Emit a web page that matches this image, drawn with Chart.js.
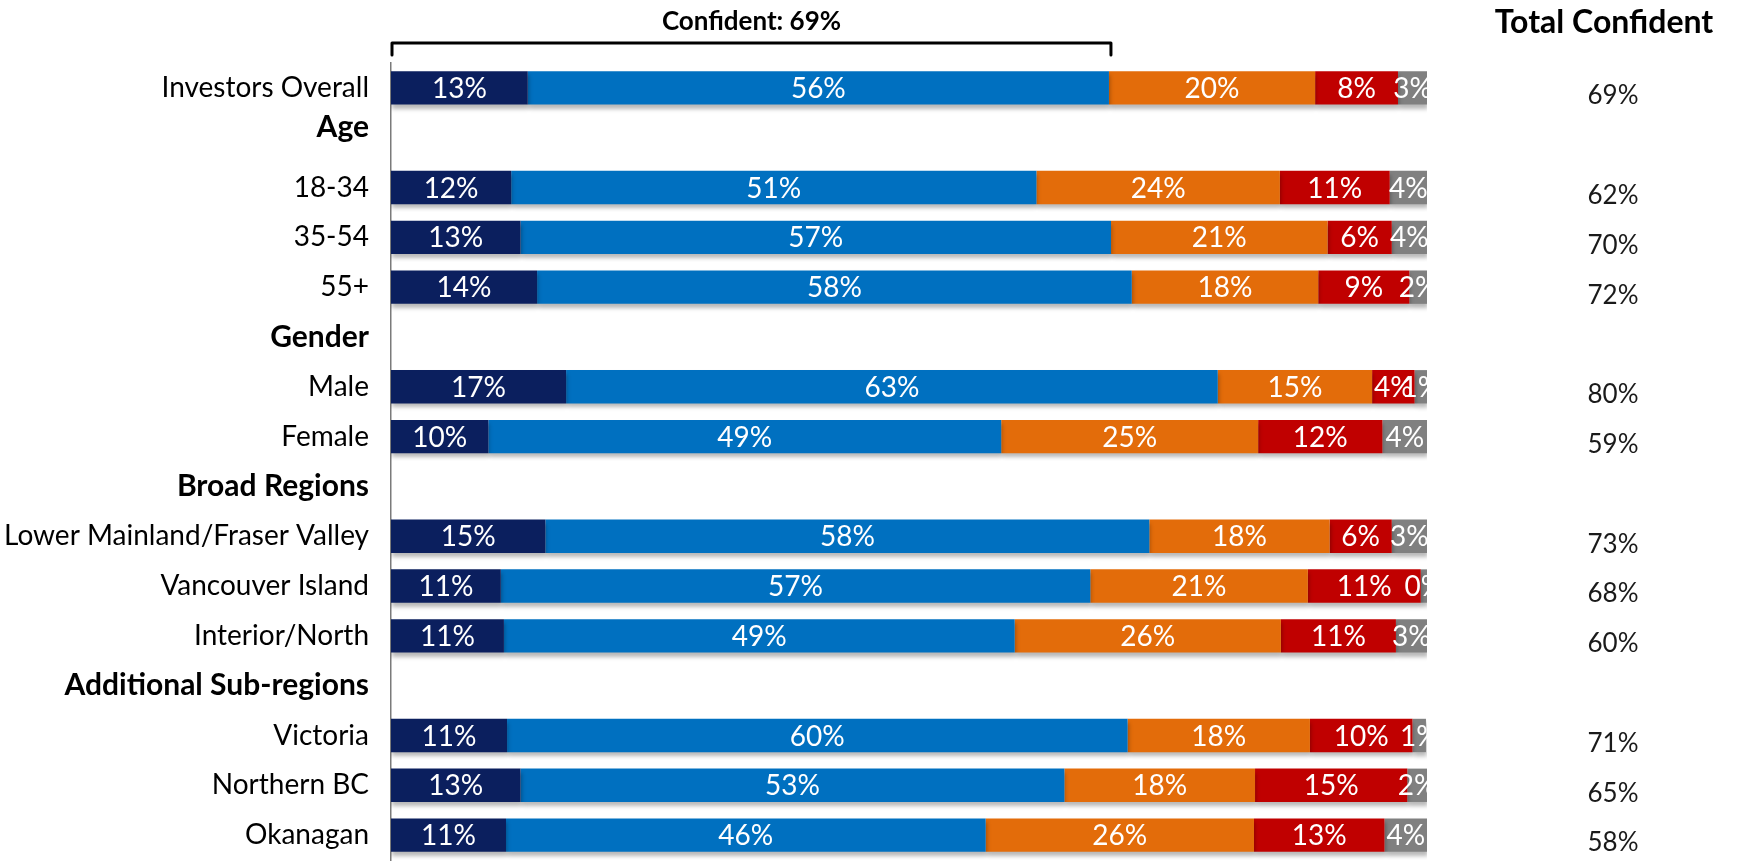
<!DOCTYPE html>
<html><head><meta charset="utf-8">
<script src="https://cdn.jsdelivr.net/npm/chart.js@4/dist/chart.umd.min.js"></script>
<style>html,body{margin:0;padding:0;background:#fff;overflow:hidden}#wrap{width:1738px;height:864px}</style>
</head><body><div id="wrap"><canvas id="c" width="1738" height="864"></canvas></div>
<script>
// ---- DATA ----
const categories = ['Investors Overall','Age','18-34','35-54','55+','Gender','Male','Female','Broad Regions','Lower Mainland/Fraser Valley','Vancouver Island','Interior/North','Additional Sub-regions','Victoria','Northern BC','Okanagan'];
const headerRows = [false,true,false,false,false,true,false,false,true,false,false,false,true,false,false,false];
const seriesNames = ['Very confident','Somewhat confident','Not very confident','Not at all confident',"Don't know"];
// segment widths (percent)
const veryConfident     = [13.2,null,11.6,12.5,14.1,null,16.9, 9.4,null,14.9,10.6,10.9,null,11.2,12.5,11.1];
const somewhatConfident = [56.1,null,50.7,57.0,57.4,null,62.9,49.5,null,58.3,56.9,49.3,null,59.9,52.5,46.3];
const notVeryConfident  = [19.9,null,23.5,20.9,18.0,null,14.9,24.8,null,17.4,21.0,25.7,null,17.6,18.4,25.9];
const notAtAllConfident = [ 8.0,null,10.6, 6.2, 8.8,null, 4.1,12.0,null, 6.0,10.9,11.1,null, 9.9,14.7,12.6];
const dontKnow          = [ 2.8,null, 3.6, 3.4, 1.7,null, 1.2, 4.3,null, 3.4, 0.6, 3.0,null, 1.3, 1.9, 4.1];
// printed labels (percent)
const veryLabels     = [13,null,12,13,14,null,17,10,null,15,11,11,null,11,13,11];
const somewhatLabels = [56,null,51,57,58,null,63,49,null,58,57,49,null,60,53,46];
const notVeryLabels  = [20,null,24,21,18,null,15,25,null,18,21,26,null,18,18,26];
const notAtAllLabels = [ 8,null,11, 6, 9,null, 4,12,null, 6,11,11,null,10,15,13];
const dontKnowLabels = [ 3,null, 4, 4, 2,null, 1, 4,null, 3, 0, 3,null, 1, 2, 4];
const totalConfident = [69,null,62,70,72,null,80,59,null,73,68,60,null,71,65,58];
const colors = ['#0B1F5E','#0070C0','#E36C0A','#C00000','#808080'];

const seriesValues = [veryConfident,somewhatConfident,notVeryConfident,notAtAllConfident,dontKnow];
const seriesLabels = [veryLabels,somewhatLabels,notVeryLabels,notAtAllLabels,dontKnowLabels];

const FONT = 'Lato';

const shadowPlugin = {
  id:'shadow',
  beforeDatasetDraw(chart){ const c=chart.ctx; c.save(); c.shadowColor='rgba(0,0,0,0.28)'; c.shadowOffsetY=4; c.shadowOffsetX=1; c.shadowBlur=4; },
  afterDatasetDraw(chart){ chart.ctx.restore(); }
};

const labelPlugin = {
  id:'labels',
  afterDatasetsDraw(chart){
    const ctx = chart.ctx;
    ctx.save();
    ctx.font = '28px ' + FONT;
    ctx.fillStyle = '#ffffff';
    ctx.textAlign = 'center';
    ctx.textBaseline = 'middle';
    chart.data.datasets.forEach((ds, i) => {
      const meta = chart.getDatasetMeta(i);
      meta.data.forEach((el, j) => {
        const lab = seriesLabels[i][j];
        if (lab === null || lab === undefined) return;
        ctx.fillText(lab + '%', (el.x + el.base) / 2, el.y + 1);
      });
    });
    // Total Confident column
    const yScale = chart.scales.y;
    ctx.fillStyle = '#1a1a1a';
    ctx.font = '26px ' + FONT;
    totalConfident.forEach((v, j) => {
      if (v === null) return;
      ctx.fillText(v + '%', 1613, yScale.getPixelForValue(j) + 8);
    });
    ctx.fillStyle = '#000000';
    ctx.font = 'bold 32px ' + FONT;
    ctx.fillText('Total Confident', 1604, 23);
    // bracket
    const xs = chart.scales.x;
    const x0 = xs.getPixelForValue(0) + 1;
    const x1 = xs.getPixelForValue(veryConfident[0] + somewhatConfident[0]) + 2;
    ctx.strokeStyle = '#000000';
    ctx.lineWidth = 3;
    ctx.lineJoin = 'round';
    ctx.lineCap = 'round';
    ctx.beginPath();
    ctx.moveTo(x0, 55); ctx.lineTo(x0, 43); ctx.lineTo(x1, 43); ctx.lineTo(x1, 55);
    ctx.stroke();
    ctx.font = 'bold 26px ' + FONT;
    ctx.fillText('Confident: ' + totalConfident[0] + '%', (x0 + x1) / 2, 22);
    ctx.restore();
  }
};

new Chart(document.getElementById('c'), {
  type: 'bar',
  data: {
    labels: categories.map((c, i) => (i === 1 ? [c, ''] : c)),
    datasets: seriesValues.map((vals, i) => ({
      label: seriesNames[i],
      data: vals,
      backgroundColor: colors[i],
      borderWidth: 0,
      barPercentage: 0.67,
      categoryPercentage: 1.0
    }))
  },
  options: {
    indexAxis: 'y',
    responsive: false,
    animation: false,
    devicePixelRatio: 1,
    layout: { padding: { left: 0, top: 63, right: 311, bottom: 4 } },
    plugins: { legend: { display: false }, tooltip: { enabled: false }, title: { display: false } },
    scales: {
      x: { stacked: true, min: 0, max: 100, display: false },
      y: {
        stacked: true,
        grid: { display: false, drawTicks: false },
        border: { display: true, color: '#7a7a7a', width: 1.5 },
        afterFit(scale) { scale.width = 391; scale.paddingTop = 0; scale.paddingBottom = 0; },
        ticks: {
          padding: 22,
          color: '#000000',
          autoSkip: false,
          font: (ctx) => {
            const hdr = headerRows[ctx.index];
            return { family: FONT, size: hdr ? 30 : 28, weight: hdr ? 'bold' : 'normal', lineHeight: ctx.index === 1 ? 0.67 : 1.2 };
          }
        }
      }
    }
  },
  plugins: [shadowPlugin, labelPlugin]
});
</script>
</body></html>
